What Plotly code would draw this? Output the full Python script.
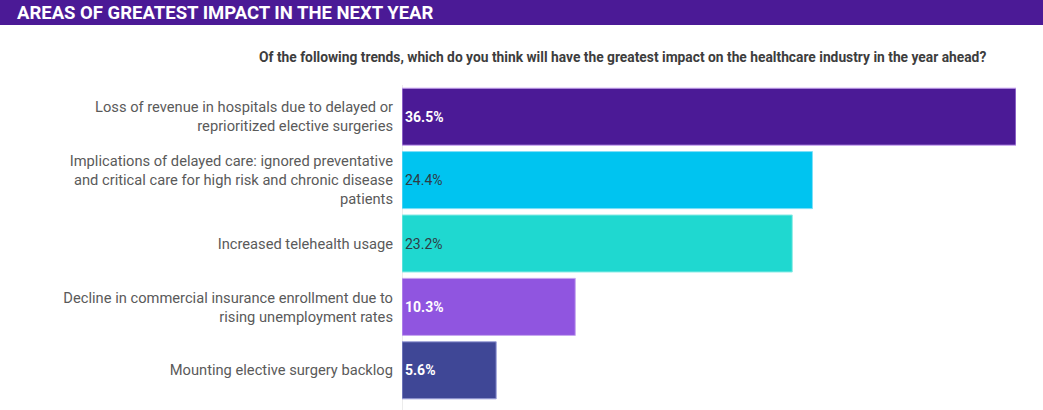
import plotly.graph_objects as go

categories = [
    "Loss of revenue in hospitals due to delayed or<br>reprioritized elective surgeries",
    "Implications of delayed care: ignored preventative<br>and critical care for high risk and chronic disease<br>patients",
    "Increased telehealth usage",
    "Decline in commercial insurance enrollment due to<br>rising unemployment rates",
    "Mounting elective surgery backlog",
]
values = [36.5, 24.4, 23.2, 10.3, 5.6]
bar_colors = ["#4b1a96", "#00c4f0", "#1fd8d0", "#9055e0", "#3f4796"]
edge_colors = ["#c9a6f2", "#7fe0f8", "#8febe6", "#c8a8f0", "#9a9fd8"]
text_colors = ["#ffffff", "#2f3b45", "#2f3b45", "#ffffff", "#ffffff"]
text_bold = [True, False, False, True, True]

W, H = 1043, 410
L, R, T, B = 402, 27, 85, 8
PW, PH = W - L - R, H - T - B

def px_x(p):
    return (p - L) / PW

def px_y(p):
    return (H - B - p) / PH

labels = [("<b>%s%%</b>" if b else "%s%%") % v for v, b in zip(values, text_bold)]

fig = go.Figure(go.Bar(
    x=values,
    y=categories,
    orientation="h",
    marker=dict(color=bar_colors, line=dict(color=edge_colors, width=1)),
    text=labels,
    textposition="inside",
    insidetextanchor="start",
    textangle=0,
    textfont=dict(family="Roboto", size=14, color=text_colors),
    hoverinfo="skip",
))

fig.update_layout(
    width=W, height=H,
    margin=dict(l=L, r=R, t=T, b=B),
    paper_bgcolor="white", plot_bgcolor="white",
    bargap=0.1,
    showlegend=False,
    font=dict(family="Roboto", size=14, color="#555555"),
    xaxis=dict(range=[0, 36.5], visible=False, fixedrange=True),
    yaxis=dict(autorange="reversed", showgrid=False, showline=False, ticks="",
               ticklabelstandoff=8, tickfont=dict(family="Roboto", size=14.7, color="#5a5a5a"),
               fixedrange=True),
    shapes=[
        dict(type="rect", xref="paper", yref="paper", x0=px_x(0), x1=px_x(W),
             y0=px_y(25), y1=px_y(0), fillcolor="#4b1a96", line=dict(width=0), layer="below"),
        dict(type="line", xref="x", yref="paper", x0=0, x1=0, y0=px_y(410), y1=px_y(85),
             line=dict(color="#e6e6e6", width=1.5), layer="below"),
    ],
    annotations=[
        dict(text="<b>AREAS OF GREATEST IMPACT IN THE NEXT YEAR</b>", xref="paper", yref="paper",
             x=px_x(15), y=px_y(13), xanchor="left", yanchor="middle", showarrow=False,
             font=dict(family="Roboto", size=18.5, color="white")),
        dict(text="<b>Of the following trends, which do you think will have the greatest impact on the healthcare industry in the year ahead?</b>",
             xref="paper", yref="paper", x=px_x(988), y=px_y(57), xanchor="right", yanchor="middle",
             showarrow=False, font=dict(family="Roboto", size=13.8, color="#3d3d3d")),
    ],
)

fig.write_html("out.html", config={"displayModeBar": False},
               post_script="document.body.style.margin='0';document.body.style.overflow='hidden';")
